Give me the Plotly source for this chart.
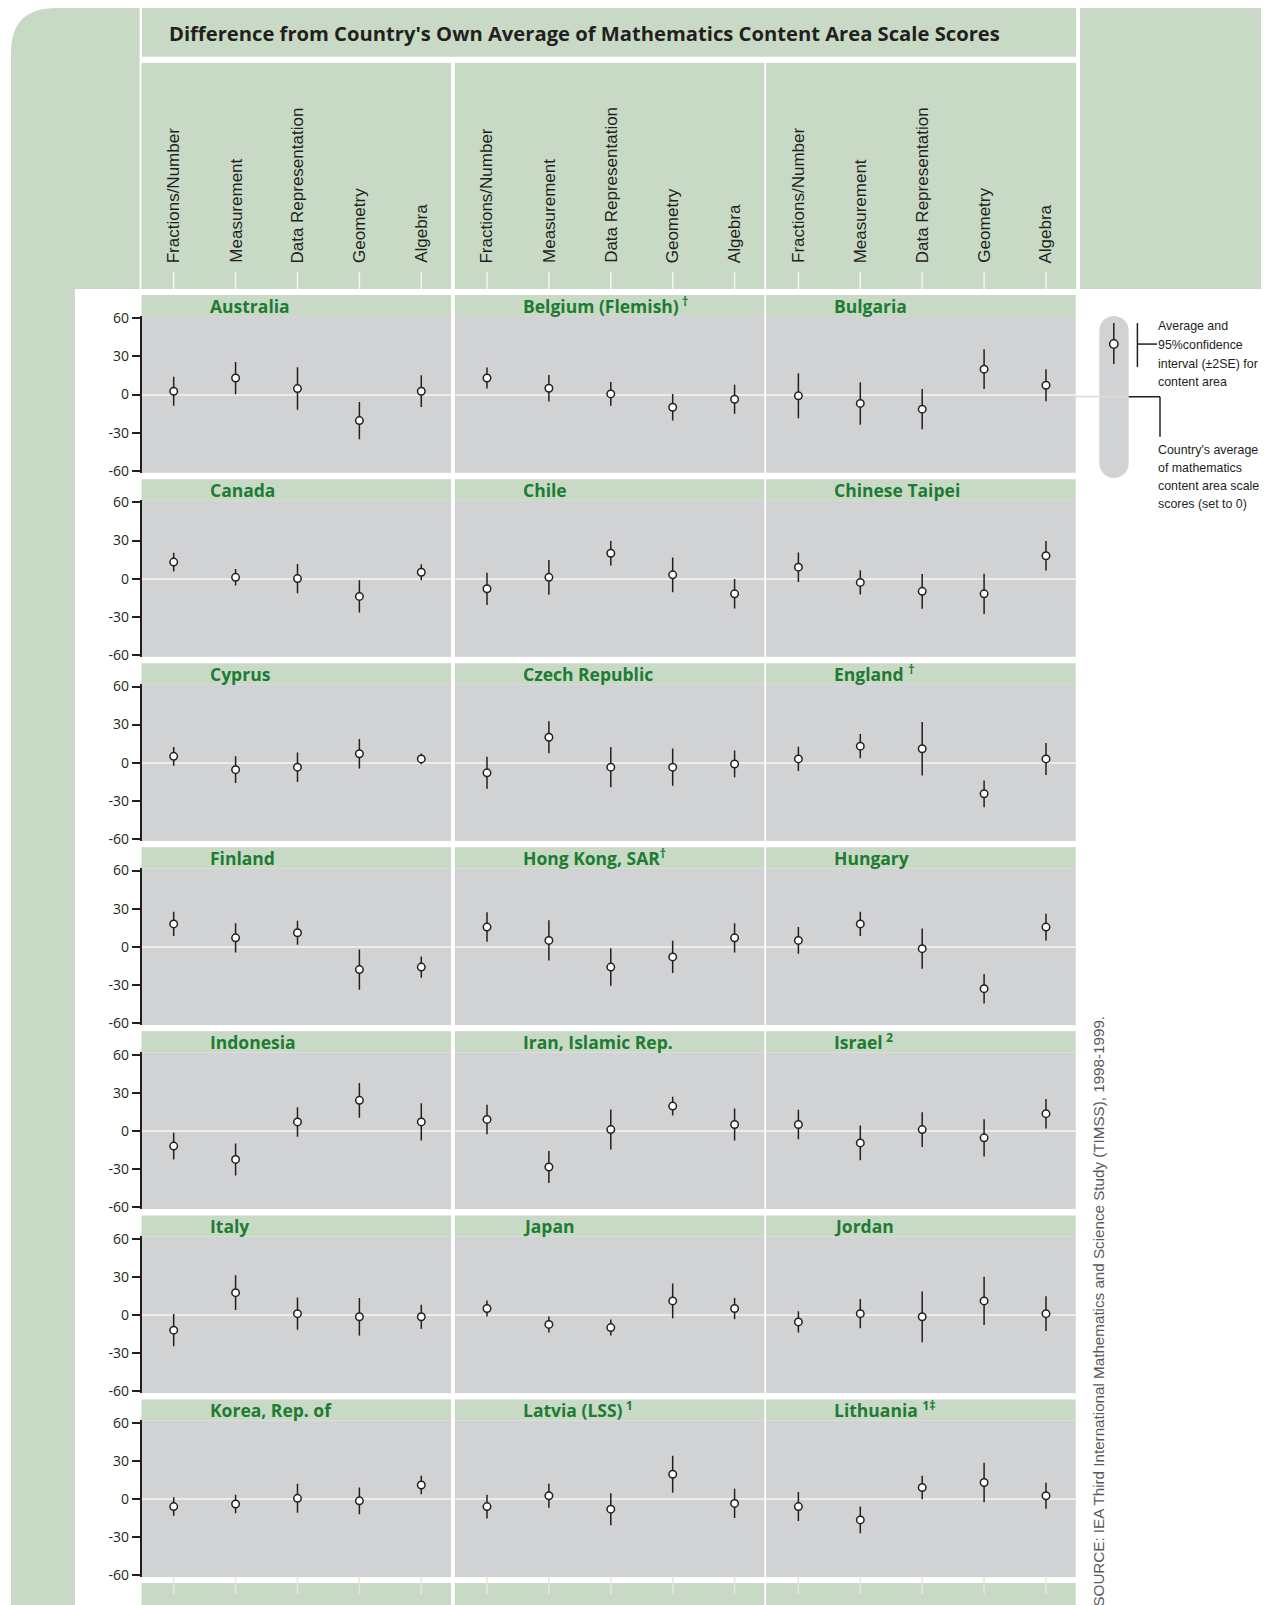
import plotly.graph_objects as go

W, H = 1269, 1605          # size of the reference picture
MARGIN = 8                 # default body margin of the html page
FW, FH = 1269, 1612        # figure size (page may overflow slightly; it is clipped)
SY, OY = 0.9907, 8.0       # vertical mapping page -> picture observed in the renderer

# ---------------- data ----------------
categories = ["Fractions/Number", "Measurement", "Data Representation", "Geometry", "Algebra"]

countries = ["Australia", "Belgium (Flemish)<sup> †</sup>", "Bulgaria",
             "Canada", "Chile", "Chinese Taipei",
             "Cyprus", "Czech Republic", "England <sup>†</sup>",
             "Finland", "Hong Kong, SAR<sup>†</sup>", "Hungary",
             "Indonesia", "Iran, Islamic Rep.", "Israel<sup> 2</sup>",
             "Italy", "Japan", "Jordan",
             "Korea, Rep. of", "Latvia (LSS)<sup> 1</sup>", "Lithuania <sup>1‡</sup>"]

# difference from country's own average (points)
fractions_mean   = [2.6, 13, -1, 13, -8, 9, 5, -8, 3, 18, 15.5, 5, -12, 9, 5, -12, 5, -5.5, -6, -6, -6]
measurement_mean = [13, 5, -7, 1, 1, -3, -5.5, 20, 13, 7, 5, 18, -22.5, -28.5, -9.5, 17.5, -7.5, 1, -4, 2.5, -16.5]
datarep_mean     = [4.7, 0.5, -11.5, 0, 20, -10, -3.5, -3.5, 11, 11, -16, -1.5, 7, 1, 1, 1, -10, -1.5, 0.5, -8, 9]
geometry_mean    = [-20.5, -10, 20, -14, 3, -12, 7, -3.5, -24.5, -18, -8, -33, 24, 19.5, -5.5, -1.5, 11, 11, -1.5, 19.5, 13]
algebra_mean     = [2.6, -3.7, 7.3, 5, -12, 18, 3, -1, 3, -16, 7, 15.5, 7, 5, 13.5, -1.5, 5, 1, 11, -3.5, 2.5]

# 95% confidence interval half-widths (±2SE)
fractions_ci   = [11.4, 8.3, 17.7, 7.4, 12.7, 11.6, 7.4, 12.6, 9.5, 9.5, 11.6, 10.5, 10.5, 11.6, 11.6, 12.7, 6.3, 8.4, 7.3, 9.4, 11.4]
measurement_ci = [12.7, 10.4, 16.7, 6.5, 13.7, 9.5, 10.5, 12.6, 9.5, 11.6, 15.8, 9.5, 12.6, 12.6, 13.7, 13.7, 6.3, 11.6, 7.3, 9.4, 10.5]
datarep_ci     = [16.7, 9.3, 15.9, 11.6, 9.6, 13.7, 11.6, 15.8, 21, 9.5, 14.8, 15.8, 11.6, 15.8, 13.7, 12.7, 6.3, 20, 11.4, 12.6, 9.3]
geometry_ci    = [14.7, 10.4, 15.7, 12.7, 13.7, 15.8, 11.6, 14.7, 10.5, 15.8, 12.7, 11.6, 13.7, 7.4, 14.7, 14.8, 13.7, 19, 10.5, 14.6, 15.6]
algebra_ci     = [12.5, 11.5, 12.6, 6.3, 11.6, 11.6, 4.2, 10.5, 12.6, 8.4, 11.6, 10.5, 14.7, 12.6, 11.6, 9.5, 8.4, 13.7, 7.3, 11.5, 10.2]

y_tick_vals = [60, 30, 0, -30, -60]
y_tick_text = ["60", "30", "0", "-30", "-60"]

title_text = "Difference from Country's Own Average of Mathematics Content Area Scale Scores"
legend_lines_1 = ["Average and", "95%confidence", "interval (±2SE) for", "content area"]
legend_lines_2 = ["Country's average", "of mathematics", "content area scale", "scores (set to 0)"]
source_text = "SOURCE: IEA Third International Mathematics and Science Study (TIMSS), 1998-1999."

# ---------------- style ----------------
GREEN_BG = "#c8dac5"
GRAY = "#d1d2d4"
DARK = "#231f20"
GREEN_TXT = "#1e7b34"
ZERO = "#ececec"
BOLD = "Open Sans, sans-serif"
LIGHT = "Liberation Sans, Arial, sans-serif"


def px(x):
    return (x - MARGIN) / FW


def py(y):
    page_y = (y - OY) / SY
    return 1 - (page_y - MARGIN) / FH


col_left = [141.5, 454.8, 766.2]
col_w = 309.5
row_pitch = 184.07
gray_top0 = 316.0
gray_h = 156.7
strip_top0 = 295.0

fig = go.Figure()
shapes = []
annotations = []


def rect(x0, y0, x1, y1, color):
    shapes.append(dict(type="rect", xref="paper", yref="paper",
                       x0=px(x0), x1=px(x1), y0=py(y1), y1=py(y0),
                       fillcolor=color, line=dict(width=0), layer="below"))


def line(x0, y0, x1, y1, color, width=1.5, layer="above"):
    shapes.append(dict(type="line", xref="paper", yref="paper",
                       x0=px(x0), x1=px(x1), y0=py(y0), y1=py(y1),
                       line=dict(color=color, width=width), layer=layer))


def path(pts, color):
    d = ""
    for p in pts:
        if p[0] == "M" or p[0] == "L":
            d += f"{p[0]} {px(p[1]):.5f},{py(p[2]):.5f} "
        elif p[0] == "Q":
            d += f"Q {px(p[1]):.5f},{py(p[2]):.5f} {px(p[3]):.5f},{py(p[4]):.5f} "
        elif p[0] == "C":
            d += (f"C {px(p[1]):.5f},{py(p[2]):.5f} {px(p[3]):.5f},{py(p[4]):.5f} "
                  f"{px(p[5]):.5f},{py(p[6]):.5f} ")
    d += "Z"
    shapes.append(dict(type="path", xref="paper", yref="paper", path=d,
                       fillcolor=color, line=dict(width=0), layer="below"))


# background frame
R = 45
path([("M", 11, 1610), ("L", 11, 8 + R), ("Q", 11, 8, 11 + R, 8), ("L", 139.6, 8),
      ("L", 139.6, 289), ("L", 75, 289), ("L", 75, 1610)], GREEN_BG)
rect(142, 8, 1076, 56.7, GREEN_BG)             # title box
rect(1080, 8, 1275, 289, GREEN_BG)             # right header block
for c in range(3):
    right = col_left[c] + col_w if c < 2 else 1076
    rect(col_left[c], 62.7, right, 289, GREEN_BG)      # category header
    rect(col_left[c], 1583, col_left[c] + col_w, 1610, GREEN_BG)  # bottom strip
    for r in range(7):
        t = strip_top0 + r * row_pitch
        rect(col_left[c], t, col_left[c] + col_w, gray_top0 + r * row_pitch, GREEN_BG)

annotations.append(dict(text="<b>" + title_text + "</b>", xref="paper", yref="paper",
                        x=px(167), y=py(33), xanchor="left", yanchor="middle",
                        showarrow=False, font=dict(family=BOLD, size=20.2, color=DARK)))

# panels
for k in range(21):
    r, c = divmod(k, 3)
    n = k + 1
    xa = "xaxis" if n == 1 else f"xaxis{n}"
    ya = "yaxis" if n == 1 else f"yaxis{n}"
    xr = "x" if n == 1 else f"x{n}"
    yr = "y" if n == 1 else f"y{n}"
    means = [fractions_mean[k], measurement_mean[k], datarep_mean[k], geometry_mean[k], algebra_mean[k]]
    cis = [fractions_ci[k], measurement_ci[k], datarep_ci[k], geometry_ci[k], algebra_ci[k]]
    fig.add_trace(go.Scatter(
        x=categories, y=means, xaxis=xr, yaxis=yr, mode="markers",
        error_y=dict(type="data", array=cis, visible=True, color=DARK, thickness=1.5, width=0),
        marker=dict(symbol="circle", size=7.5, color="white", line=dict(color=DARK, width=1.5)),
        showlegend=False, hoverinfo="skip"))
    top = gray_top0 + r * row_pitch
    fig.layout[xa] = dict(domain=[px(col_left[c]), px(col_left[c] + col_w)],
                          type="category", categoryorder="array", categoryarray=categories,
                          range=[-0.52, 4.48], showticklabels=False, showgrid=False,
                          zeroline=False, showline=False, ticks="", anchor=yr, fixedrange=True)
    first = (c == 0)
    fig.layout[ya] = dict(domain=[py(top + gray_h), py(top)], range=[-61.6, 61.8],
                          anchor=xr, showgrid=False, zeroline=True, zerolinecolor=ZERO,
                          zerolinewidth=2, tickmode="array", tickvals=y_tick_vals,
                          ticktext=y_tick_text, showticklabels=first,
                          ticks="outside" if first else "", ticklen=8, tickwidth=1.5,
                          tickcolor=DARK, showline=first, linecolor=DARK, linewidth=1.5,
                          tickfont=dict(family="Open Sans, sans-serif", size=14, color=DARK),
                          fixedrange=True)
    annotations.append(dict(text="<b>" + countries[k] + "</b>", xref="paper", yref="paper",
                            x=px(col_left[c] + 66), y=py(strip_top0 + r * row_pitch + 10.5),
                            xanchor="left", yanchor="middle", showarrow=False,
                            font=dict(family=BOLD, size=17.5, color=GREEN_TXT)))

# header category labels and tick marks, bottom tick marks
for c in range(3):
    xr = "x" if c == 0 else f"x{c + 1}"
    for cat in categories:
        annotations.append(dict(text=cat, xref=xr, yref="paper", x=cat, y=py(265),
                                xanchor="center", yanchor="bottom", textangle=-90,
                                showarrow=False, font=dict(family=LIGHT, size=17, color=DARK)))
        shapes.append(dict(type="line", xref=xr, yref="paper", x0=cat, x1=cat,
                           y0=py(272), y1=py(289), line=dict(color="#f4f6f3", width=1.5)))
        shapes.append(dict(type="line", xref=xr, yref="paper", x0=cat, x1=cat,
                           y0=py(1577), y1=py(1594), line=dict(color="#e4e6e3", width=1.5)))

# legend key
pl, pr, pt, pb = 1099.3, 1128.7, 316, 478
rr = (pr - pl) / 2
k4 = 0.5523 * rr
path([("M", pl, pt + rr), ("C", pl, pt + rr - k4, pl + rr - k4, pt, pl + rr, pt),
      ("C", pl + rr + k4, pt, pr, pt + rr - k4, pr, pt + rr),
      ("L", pr, pb - rr), ("C", pr, pb - rr + k4, pl + rr + k4, pb, pl + rr, pb),
      ("C", pl + rr - k4, pb, pl, pb - rr + k4, pl, pb - rr)], GRAY)
line(1075.7, 396.5, 1128.7, 396.5, "#dadada", 1.5)
line(1113.8, 323, 1113.8, 364, DARK, 1.5)
shapes.append(dict(type="circle", xref="paper", yref="paper",
                   x0=px(1113.8 - 4.2), x1=px(1113.8 + 4.2), y0=py(344 + 4.2), y1=py(344 - 4.2),
                   fillcolor="white", line=dict(color=DARK, width=1.5)))
line(1137.4, 323, 1137.4, 367, DARK, 1.5)
line(1137.4, 344, 1157, 344, DARK, 1.5)
line(1128.7, 396.7, 1160, 396.7, DARK, 1.5)
line(1160, 396.7, 1160, 436.7, DARK, 1.5)

for txt, yc in zip(legend_lines_1, [326, 345, 363.5, 382]):
    annotations.append(dict(text=txt, xref="paper", yref="paper", x=px(1156), y=py(yc),
                            xanchor="left", yanchor="middle", align="left", showarrow=False,
                            font=dict(family=LIGHT, size=12.4, color=DARK)))
for txt, yc in zip(legend_lines_2, [450, 468, 486, 504]):
    annotations.append(dict(text=txt, xref="paper", yref="paper", x=px(1156), y=py(yc),
                            xanchor="left", yanchor="middle", align="left", showarrow=False,
                            font=dict(family=LIGHT, size=12.4, color=DARK)))
annotations.append(dict(text=source_text, xref="paper", yref="paper", x=px(1099), y=py(1609),
                        xanchor="center", yanchor="bottom", textangle=-90, showarrow=False,
                        font=dict(family=LIGHT, size=15.2, color="#58595b")))

fig.update_layout(width=FW, height=FH, margin=dict(l=0, r=0, t=0, b=0), autosize=False,
                  paper_bgcolor="white", plot_bgcolor=GRAY, showlegend=False,
                  shapes=shapes, annotations=annotations)

fig.write_html("out.html", config={"displayModeBar": False},
               post_script="document.documentElement.style.overflow='hidden';")
